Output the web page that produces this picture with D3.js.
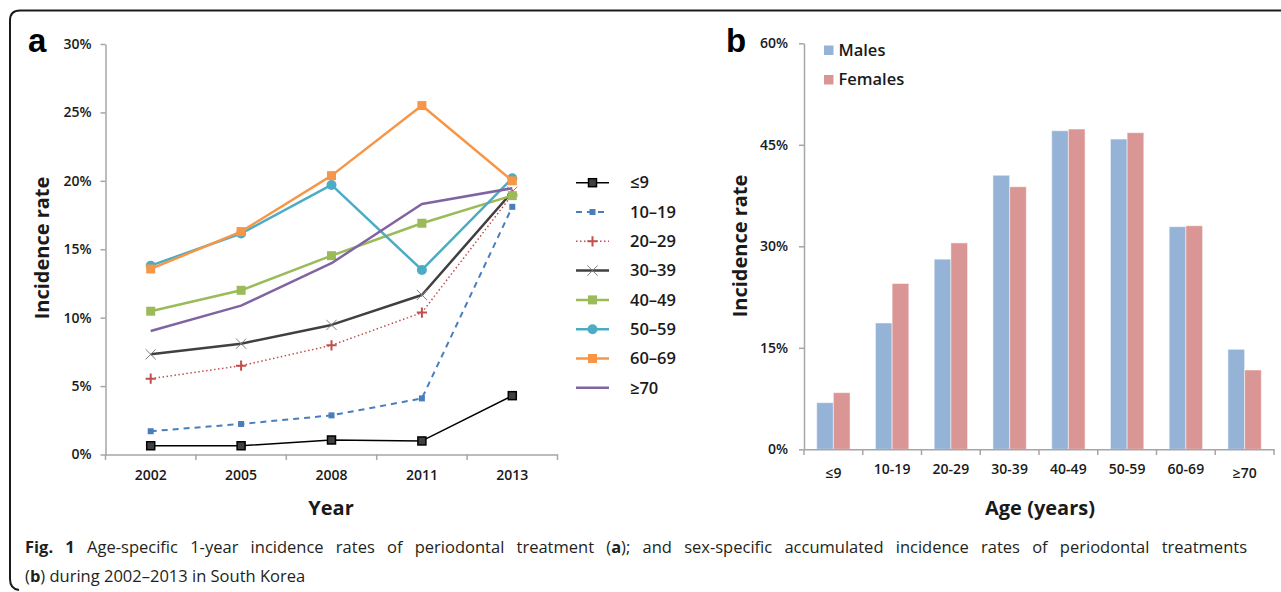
<!DOCTYPE html>
<html>
<head>
<meta charset="utf-8">
<script src="https://cdn.jsdelivr.net/npm/d3@7"></script>
<style>
  html, body { margin: 0; padding: 0; background: #fff; }
  svg { display: block; }
</style>
</head>
<body>
<svg id="chart" width="1281" height="592"></svg>
<script>
// ---------- Panel a data ----------
const years = ["2002", "2005", "2008", "2011", "2013"];
const ageGroupsA = ["≤9", "10–19", "20–29", "30–39", "40–49", "50–59", "60–69", "≥70"];
const rate_le9   = [0.64, 0.64, 1.06, 0.99, 4.3];
const rate_10_19 = [1.7, 2.23, 2.86, 4.1, 18.1];
const rate_20_29 = [5.54, 6.49, 7.98, 10.37, 19.0];
const rate_30_39 = [7.32, 8.1, 9.47, 11.66, 19.2];
const rate_40_49 = [10.47, 12.0, 14.53, 16.9, 18.92];
const rate_50_59 = [13.8, 16.15, 19.7, 13.49, 20.19];
const rate_60_69 = [13.56, 16.29, 20.38, 25.5, 20.0];
const rate_ge70  = [9.03, 10.88, 13.98, 18.31, 19.46];
const yTicksA = [0, 5, 10, 15, 20, 25, 30];

// ---------- Panel b data ----------
const ageGroupsB = ["≤9", "10-19", "20-29", "30-39", "40-49", "50-59", "60-69", "≥70"];
const sexes = ["Males", "Females"];
const males   = [6.89, 18.67, 28.1, 40.5, 47.08, 45.85, 32.9, 14.78];
const females = [8.37, 24.5, 30.5, 38.8, 47.33, 46.79, 33.04, 11.72];
const yTicksB = [0, 15, 30, 45, 60];

// ---------- styles ----------
const seriesA = [
  { name: ageGroupsA[0], values: rate_le9,   color: "#000000", width: 1.5, dash: null,      marker: "sqDark" },
  { name: ageGroupsA[1], values: rate_10_19, color: "#4a7ebb", width: 2,   dash: "6,5",     marker: "sqSmall" },
  { name: ageGroupsA[2], values: rate_20_29, color: "#c0504d", width: 1.5, dash: "1.5,2.5", marker: "plus" },
  { name: ageGroupsA[3], values: rate_30_39, color: "#404040", width: 2.5, dash: null,      marker: "x" },
  { name: ageGroupsA[4], values: rate_40_49, color: "#9bbb59", width: 2.5, dash: null,      marker: "sq" },
  { name: ageGroupsA[5], values: rate_50_59, color: "#4bacc6", width: 2.5, dash: null,      marker: "circle" },
  { name: ageGroupsA[6], values: rate_60_69, color: "#f79646", width: 2.5, dash: null,      marker: "sq" },
  { name: ageGroupsA[7], values: rate_ge70,  color: "#8064a2", width: 2.5, dash: null,      marker: null }
];
const sexColors = { Males: "#95b3d7", Females: "#d99694" };

const FONT = "'Open Sans', 'Noto Sans', sans-serif";
const AXIS_COLOR = "#a6a6a6";
const TICK_FS = 14;

const svg = d3.select("#chart");

// ---------- frame ----------
svg.append("path")
  .attr("d", "M1285,10.5 H20 Q10,10.5 10,20.5 V579 Q10,589 19,590")
  .attr("fill", "none").attr("stroke", "#1a1a1a").attr("stroke-width", 2);

// ---------- Panel a ----------
const xA = d3.scaleBand().domain(years).range([105.5, 557.5]);
const yA = d3.scaleLinear().domain([0, 30]).range([454.5, 44]);

const gA = svg.append("g");

const yAxisA = d3.axisLeft(yA).tickValues(yTicksA).tickSize(5).tickSizeOuter(0)
  .tickFormat(d => d + "%");
const gyA = gA.append("g").attr("transform", "translate(105.5,0)").call(yAxisA);
gyA.select(".domain").attr("stroke", AXIS_COLOR).attr("stroke-width", 1.5);
gyA.selectAll(".tick line").attr("stroke", AXIS_COLOR).attr("stroke-width", 1.5);
gyA.selectAll(".tick text").attr("x", -14).attr("font-family", FONT).attr("font-size", TICK_FS)
  .attr("font-weight", 600).attr("fill", "#1a1a1a");

const xAxisA = d3.axisBottom(xA).tickSize(0).tickSizeOuter(0);
const gxA = gA.append("g").attr("transform", "translate(0,454.5)").call(xAxisA);
gxA.select(".domain").attr("stroke", AXIS_COLOR).attr("stroke-width", 1.5);
gxA.selectAll(".tick text").attr("y", 16).attr("font-family", FONT).attr("font-size", TICK_FS)
  .attr("font-weight", 600).attr("fill", "#1a1a1a");
const boundsA = years.map(d => xA(d)).concat([xA.range()[1]]);
gA.append("g").selectAll("line").data(boundsA).join("line")
  .attr("x1", d => d).attr("x2", d => d).attr("y1", 454.5).attr("y2", 460)
  .attr("stroke", AXIS_COLOR).attr("stroke-width", 1.5);

const lineA = d3.line().x((d, i) => xA(years[i]) + xA.bandwidth() / 2).y(d => yA(d));

function drawMarker(g, type, color) {
  if (!type) return;
  if (type === "sqDark") {
    g.append("rect").attr("x", -4).attr("y", -4).attr("width", 8).attr("height", 8)
      .attr("fill", "#404040").attr("stroke", "#000").attr("stroke-width", 1.5);
  } else if (type === "sqSmall") {
    g.append("rect").attr("x", -3).attr("y", -3).attr("width", 6).attr("height", 6)
      .attr("fill", color);
  } else if (type === "sq") {
    g.append("rect").attr("x", -4.5).attr("y", -4.5).attr("width", 9).attr("height", 9)
      .attr("fill", color);
  } else if (type === "circle") {
    g.append("circle").attr("r", 5).attr("fill", color);
  } else if (type === "plus") {
    g.append("path").attr("d", d3.symbol(d3.symbolPlus, 36)())
      .attr("fill", "none").attr("stroke", color).attr("stroke-width", 2);
  } else if (type === "x") {
    g.append("path").attr("d", d3.symbol(d3.symbolX, 70)())
      .attr("fill", "none").attr("stroke", "#808080").attr("stroke-width", 1);
  }
}

seriesA.forEach(s => {
  const g = gA.append("g");
  g.append("path").datum(s.values).attr("d", lineA)
    .attr("fill", "none").attr("stroke", s.color).attr("stroke-width", s.width)
    .attr("stroke-dasharray", s.dash).attr("stroke-linejoin", "round");
  s.values.forEach((v, i) => {
    const m = g.append("g").attr("transform",
      `translate(${xA(years[i]) + xA.bandwidth() / 2},${yA(v)})`);
    drawMarker(m, s.marker, s.color);
  });
});

// legend a
const legA = gA.append("g");
seriesA.forEach((s, i) => {
  const y = 182.7 + i * 29.3;
  const g = legA.append("g").attr("transform", `translate(0,${y})`);
  g.append("line").attr("x1", 576).attr("x2", 609).attr("y1", 0).attr("y2", 0)
    .attr("stroke", s.color).attr("stroke-width", s.width).attr("stroke-dasharray", s.dash);
  drawMarker(g.append("g").attr("transform", "translate(592.5,0)"), s.marker, s.color);
  g.append("text").attr("x", 630).attr("y", 0).attr("dy", "0.35em")
    .attr("font-family", FONT).attr("font-size", 16.5).attr("font-weight", 600)
    .attr("fill", "#1a1a1a").text(s.name);
});

// titles a
gA.append("text").attr("x", 28).attr("y", 52).attr("font-family", "'Liberation Sans', Arial, sans-serif")
  .attr("font-size", 33).attr("font-weight", 700).attr("fill", "#000").text("a");
gA.append("text").attr("transform", "translate(42,248) rotate(-90)").attr("text-anchor", "middle")
  .attr("dy", "0.35em").attr("font-family", FONT).attr("font-size", 20).attr("font-weight", 700)
  .attr("fill", "#1a1a1a").text("Incidence rate");
gA.append("text").attr("x", 331).attr("y", 508).attr("dy", "0.35em").attr("text-anchor", "middle")
  .attr("font-family", FONT).attr("font-size", 20).attr("font-weight", 700)
  .attr("fill", "#1a1a1a").text("Year");

// ---------- Panel b ----------
const xB = d3.scaleBand().domain(ageGroupsB).range([804, 1274]);
const xSub = d3.scaleBand().domain(sexes).range([0, xB.bandwidth()]).paddingInner(0).paddingOuter(0.76);
const yB = d3.scaleLinear().domain([0, 60]).range([449.3, 43.3]);

const gB = svg.append("g");

const yAxisB = d3.axisLeft(yB).tickValues(yTicksB).tickSize(5).tickSizeOuter(0)
  .tickFormat(d => d + "%");
const gyB = gB.append("g").attr("transform", "translate(804,0)").call(yAxisB);
gyB.select(".domain").attr("stroke", AXIS_COLOR).attr("stroke-width", 1.5);
gyB.selectAll(".tick line").attr("stroke", AXIS_COLOR).attr("stroke-width", 1.5);
gyB.selectAll(".tick text").attr("x", -16).attr("font-family", FONT).attr("font-size", TICK_FS)
  .attr("font-weight", 600).attr("fill", "#1a1a1a");

const barData = [];
ageGroupsB.forEach((a, i) => {
  barData.push({ age: a, sex: "Males", value: males[i] });
  barData.push({ age: a, sex: "Females", value: females[i] });
});
gB.append("g").selectAll("rect").data(barData).join("rect")
  .attr("x", d => xB(d.age) + xSub(d.sex))
  .attr("width", xSub.bandwidth())
  .attr("y", d => yB(d.value))
  .attr("height", d => yB(0) - yB(d.value))
  .attr("fill", d => sexColors[d.sex])
  .attr("stroke", "#ffffff").attr("stroke-opacity", 0.5).attr("stroke-width", 1);

const xAxisB = d3.axisBottom(xB).tickSize(0).tickSizeOuter(0);
const gxB = gB.append("g").attr("transform", "translate(0,449.3)").call(xAxisB);
gxB.select(".domain").attr("stroke", AXIS_COLOR).attr("stroke-width", 1.5);
gxB.selectAll(".tick text").attr("y", d => (d === "≤9" || d === "≥70") ? 25 : 21)
  .attr("dy", "0em").attr("dominant-baseline", "middle")
  .attr("font-family", FONT).attr("font-size", TICK_FS)
  .attr("font-weight", 600).attr("fill", "#1a1a1a");
const boundsB = ageGroupsB.map(d => xB(d)).concat([xB.range()[1]]);
gB.append("g").selectAll("line").data(boundsB).join("line")
  .attr("x1", d => d).attr("x2", d => d).attr("y1", 449.3).attr("y2", 455)
  .attr("stroke", AXIS_COLOR).attr("stroke-width", 1.5);

sexes.forEach((s, i) => {
  const y = 50 + i * 29.5;
  gB.append("rect").attr("x", 824).attr("y", y - 4.5).attr("width", 9.5).attr("height", 9.5)
    .attr("fill", sexColors[s]);
  gB.append("text").attr("x", 838.5).attr("y", y).attr("dy", "0.35em")
    .attr("font-family", FONT).attr("font-size", 16.5).attr("font-weight", 600)
    .attr("fill", "#1a1a1a").text(s);
});

gB.append("text").attr("x", 726).attr("y", 52).attr("font-family", "'Liberation Sans', Arial, sans-serif")
  .attr("font-size", 33).attr("font-weight", 700).attr("fill", "#000").text("b");
gB.append("text").attr("transform", "translate(740,246) rotate(-90)").attr("text-anchor", "middle")
  .attr("dy", "0.35em").attr("font-family", FONT).attr("font-size", 20).attr("font-weight", 700)
  .attr("fill", "#1a1a1a").text("Incidence rate");
gB.append("text").attr("x", 1040).attr("y", 508).attr("dy", "0.35em").attr("text-anchor", "middle")
  .attr("font-family", FONT).attr("font-size", 20).attr("font-weight", 700)
  .attr("fill", "#1a1a1a").text("Age (years)");

// ---------- caption (line 1 justified) ----------
const CAP_FS = 16.5;
const cap1 = svg.append("text").attr("x", 25).attr("y", 553)
  .attr("font-family", FONT).attr("font-size", CAP_FS).attr("fill", "#231f20");
cap1.append("tspan").attr("font-weight", 700).text("Fig. 1");
cap1.append("tspan").text(" Age-specific 1-year incidence rates of periodontal treatment (");
cap1.append("tspan").attr("font-weight", 700).text("a");
cap1.append("tspan").text("); and sex-specific accumulated incidence rates of periodontal treatments");
const fullText = cap1.text();
const nSpaces = (fullText.match(/ /g) || []).length;
const curLen = cap1.node().getComputedTextLength();
const targetLen = 1247 - 25;
cap1.attr("word-spacing", Math.max(0, (targetLen - curLen) / nSpaces));

const cap2 = svg.append("text").attr("x", 25).attr("y", 582)
  .attr("font-family", FONT).attr("font-size", CAP_FS).attr("fill", "#231f20");
cap2.append("tspan").text("(");
cap2.append("tspan").attr("font-weight", 700).text("b");
cap2.append("tspan").text(") during 2002–2013 in South Korea");
</script>
</body>
</html>
